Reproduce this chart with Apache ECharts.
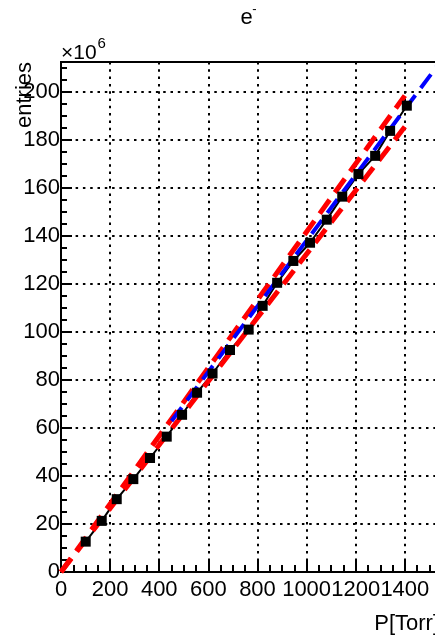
<!DOCTYPE html>
<html>
<head>
<meta charset="utf-8">
<script src="https://cdn.jsdelivr.net/npm/echarts@6/dist/echarts.min.js"></script>
<style>
  html, body { margin: 0; padding: 0; background: #fff; }
  #chart { width: 435px; height: 635px; }
</style>
</head>
<body>
<div id="chart"></div>
<script>
// Electron entries (in units of 10^6) measured at each gas pressure P [Torr]
const pressure = [100.6, 165.8, 226.9, 294.5, 362.5, 430.5, 493, 554, 617, 688, 764,
                  821, 880, 946, 1014, 1082, 1145, 1211, 1279, 1340, 1408];
const entries  = [12.65, 21.3, 30.35, 38.7, 47.5, 56.4, 65.5, 74.7, 82.7, 92.5, 101,
                  110.9, 120.5, 129.6, 137.2, 146.8, 156.4, 165.8, 173.4, 183.8, 194.3];

// Straight-line fit over the upper pressure range
const fitP = [450, 1560];
const fitN = [62.9, 214.7];

// Upper and lower envelope lines through the origin
const bandP = [0, 1400];
const bandUpper = [0, 198.5];
const bandLower = [0, 185.5];

// Tick labels
const xTickLabels = [0, 200, 400, 600, 800, 1000, 1200, 1400];
const yTickLabels = [0, 20, 40, 60, 80, 100, 120, 140, 160, 180, 200];

// Axis ranges
const xRange = [0, 1539];
const yRange = [0, 212.5];

const FONT = '"Liberation Sans", Arial, Helvetica, sans-serif';
const pairs = (xs, ys) => xs.map((x, i) => [x, ys[i]]);

const chart = echarts.init(document.getElementById('chart'), null, { renderer: 'canvas' });

const axisCommon = {
  type: 'value',
  axisLine: { show: true, onZero: false, lineStyle: { color: '#000', width: 2 } },
  splitLine: { show: true, lineStyle: { color: '#000', width: 2, type: [2.5, 4.8] } },
  axisLabel: { color: '#000', fontSize: 22, fontFamily: FONT, showMaxLabel: false }
};

chart.setOption({
  animation: false,
  textStyle: { fontFamily: FONT },
  grid: {
    left: 61, top: 62, width: 378, height: 510,
    show: true, borderColor: '#000', borderWidth: 2, backgroundColor: 'transparent',
    containLabel: false, outerBoundsMode: 'none'
  },
  xAxis: Object.assign({}, axisCommon, {
    min: xRange[0], max: xRange[1], interval: 200,
    axisTick: { show: true, inside: true, length: 13, lineStyle: { color: '#000', width: 2 } },
    minorTick: { show: true, splitNumber: 4, length: 7, lineStyle: { color: '#000', width: 2 } },
    axisLabel: Object.assign({}, axisCommon.axisLabel, {
      margin: 7,
      formatter: v => (xTickLabels.indexOf(v) >= 0 ? String(v) : '')
    })
  }),
  yAxis: Object.assign({}, axisCommon, {
    min: yRange[0], max: yRange[1], interval: 20,
    axisTick: { show: true, inside: true, length: 11, lineStyle: { color: '#000', width: 2 } },
    minorTick: { show: true, splitNumber: 4, length: 6, lineStyle: { color: '#000', width: 2 } },
    axisLabel: Object.assign({}, axisCommon.axisLabel, {
      margin: 1,
      formatter: v => (yTickLabels.indexOf(v) >= 0 ? String(v) : '')
    })
  }),
  series: [
    {
      name: 'data', type: 'line', data: pairs(pressure, entries),
      symbol: 'rect', symbolSize: 10, showSymbol: true,
      lineStyle: { color: '#000', width: 2 },
      itemStyle: { color: '#000' }, clip: true
    },
    {
      name: 'upper', type: 'line', data: pairs(bandP, bandUpper), showSymbol: false,
      lineStyle: { color: '#ff0000', width: 5, type: [17, 9] }, clip: true
    },
    {
      name: 'lower', type: 'line', data: pairs(bandP, bandLower), showSymbol: false,
      lineStyle: { color: '#ff0000', width: 5, type: [17, 9] }, clip: true
    },
    {
      name: 'fit', type: 'line', data: pairs(fitP, fitN), showSymbol: false,
      lineStyle: { color: '#0000ff', width: 4, type: [17, 9] }, clip: true
    }
  ],
  graphic: [
    { type: 'text', x: 246.7, y: 18, style: { text: 'e', font: '22px ' + FONT, fill: '#000', align: 'center', verticalAlign: 'middle' } },
    { type: 'text', x: 254.5, y: 9, style: { text: '-', font: '13px ' + FONT, fill: '#000', align: 'center', verticalAlign: 'middle' } },
    { type: 'text', x: 61, y: 53.5, style: { text: '×10', font: '21px ' + FONT, fill: '#000', align: 'left', verticalAlign: 'middle' } },
    { type: 'text', x: 97.5, y: 43.5, style: { text: '6', font: '15px ' + FONT, fill: '#000', align: 'left', verticalAlign: 'middle' } },
    { type: 'text', x: 25, y: 62, rotation: Math.PI / 2, style: { text: 'entries', font: '22px ' + FONT, fill: '#000', align: 'right', verticalAlign: 'middle' } },
    { type: 'text', x: 439, y: 624, style: { text: 'P[Torr]', font: '22px ' + FONT, fill: '#000', align: 'right', verticalAlign: 'middle' } }
  ]
});
</script>
</body>
</html>
